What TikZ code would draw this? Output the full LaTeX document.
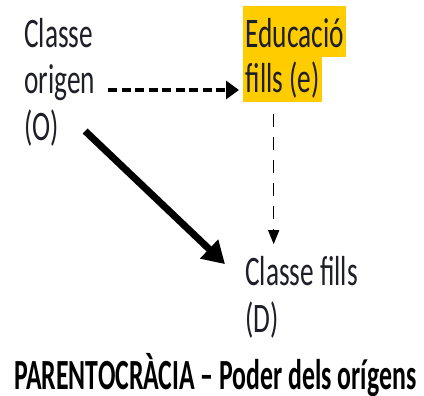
\documentclass[tikz,border=0pt]{standalone}
\usepackage{fontspec}
\setmainfont{Carlito}[FakeStretch=0.65]
\newfontfamily\headfont{Carlito}[FakeStretch=0.6]
\usepackage{xcolor}
\usetikzlibrary{arrows.meta}
\definecolor{hilite}{HTML}{FFCC00}
\definecolor{ink}{HTML}{1E1E28}

\begin{document}
\begin{tikzpicture}[x=1bp, y=-1bp, auto,
    txt/.style={inner sep=0pt, text=ink, align=left,
        font=\fontsize{42bp}{46.5bp}\selectfont},
    mark line/.style={txt, fill=hilite, inner xsep=2.5bp, text depth=10bp},
    dash arr/.style={line width=3.6bp, dash pattern=on 9bp off 4.5bp,
        -{Triangle[length=13bp, width=18bp]}},
    thin dash/.style={line width=1.5bp, dash pattern=on 13bp off 10bp,
        -{Triangle[length=14bp, width=11bp]}},
    bold arr/.style={line width=7bp, -{Triangle[length=22bp, width=25bp]}}]
        \useasboundingbox (0,0) rectangle (424,396);

        \node[txt, name=orig, anchor=base west] at (24,140) {Classe\\origen\\(O)};
        \node[mark line, name=edu, anchor=base west, text height=41bp] at (243,47) {Educació};
        \node[mark line, name=edu2, anchor=base west, text height=35bp] at (243,92) {fills (e)};
        \node[txt, name=dest, anchor=base west] at (245,332) {Classe fills\\(D)};
        \node[txt, name=title, anchor=base west, text=black,
            font=\headfont\bfseries\fontsize{43bp}{44bp}\selectfont] at (14,389)
            {PARENTOCRÀCIA – Poder dels orígens};

        \path
            ([yshift=2bp]orig.east |- edu2.base) edge [dash arr, shorten <=13bp, shorten >=4bp] ([yshift=2bp]edu2.base west)
            ([xshift=-9bp]edu2.south) edge [thin dash, shorten <=12bp, shorten >=12bp] ([xshift=-9bp]edu2.south |- dest.north)
            ([xshift=-10bp, yshift=15bp]orig.south east) edge [bold arr] ([xshift=-20bp, yshift=-8bp]dest.north west);
    \end{tikzpicture}
\end{document}
